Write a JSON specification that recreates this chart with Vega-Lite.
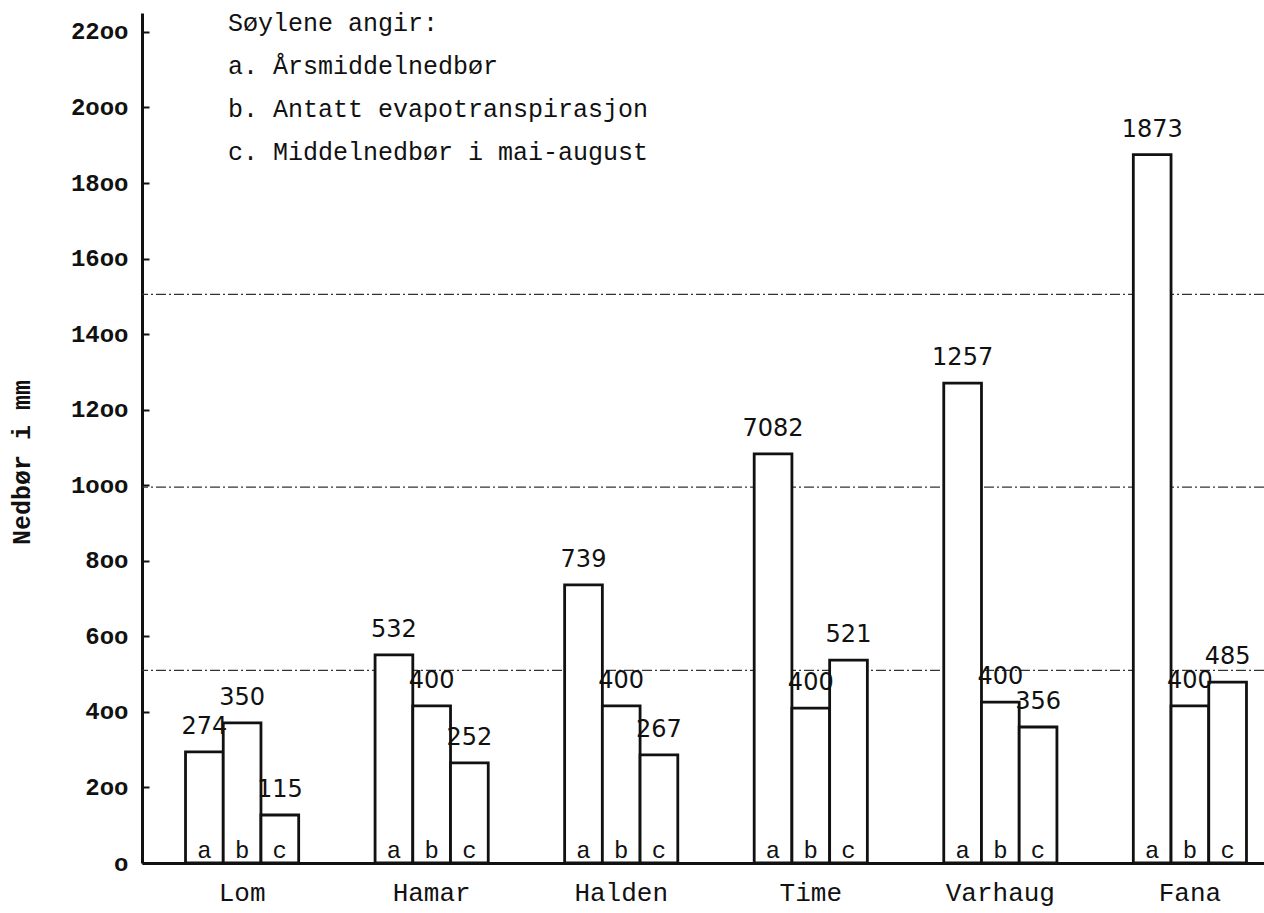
{
  "$schema": "https://vega.github.io/schema/vega-lite/v6.json",
  "width": 1122,
  "height": 850,
  "autosize": "none",
  "padding": {"left": 142, "top": 13, "right": 0, "bottom": 50},
  "background": "white",
  "config": {"view": {"stroke": null}, "font": "Liberation Mono"},
  "title": {
    "text": ["Søylene angir:", "a. Årsmiddelnedbør", "b. Antatt evapotranspirasjon", "c. Middelnedbør i mai-august"],
    "orient": "top",
    "anchor": "start",
    "frame": "group",
    "baseline": "middle",
    "offset": 0,
    "dx": 86,
    "dy": 164,
    "font": "Liberation Mono",
    "fontSize": 25,
    "fontWeight": "normal",
    "color": "#111",
    "lineHeight": 43
  },
  "datasets": {
    "bars": [
      {"sted": "Lom", "serie": "a", "verdi": 294, "etikett": "274"},
      {"sted": "Lom", "serie": "b", "verdi": 371, "etikett": "350"},
      {"sted": "Lom", "serie": "c", "verdi": 127, "etikett": "115"},
      {"sted": "Hamar", "serie": "a", "verdi": 551, "etikett": "532"},
      {"sted": "Hamar", "serie": "b", "verdi": 416, "etikett": "400"},
      {"sted": "Hamar", "serie": "c", "verdi": 265, "etikett": "252"},
      {"sted": "Halden", "serie": "a", "verdi": 736, "etikett": "739"},
      {"sted": "Halden", "serie": "b", "verdi": 416, "etikett": "400"},
      {"sted": "Halden", "serie": "c", "verdi": 286, "etikett": "267"},
      {"sted": "Time", "serie": "a", "verdi": 1083, "etikett": "7082"},
      {"sted": "Time", "serie": "b", "verdi": 410, "etikett": "400"},
      {"sted": "Time", "serie": "c", "verdi": 537, "etikett": "521"},
      {"sted": "Varhaug", "serie": "a", "verdi": 1270, "etikett": "1257"},
      {"sted": "Varhaug", "serie": "b", "verdi": 426, "etikett": "400"},
      {"sted": "Varhaug", "serie": "c", "verdi": 360, "etikett": "356"},
      {"sted": "Fana", "serie": "a", "verdi": 1875, "etikett": "1873"},
      {"sted": "Fana", "serie": "b", "verdi": 416, "etikett": "400"},
      {"sted": "Fana", "serie": "c", "verdi": 479, "etikett": "485"}
    ],
    "refs": [{"niva": 1505}, {"niva": 995}, {"niva": 510}]
  },
  "layer": [
    {
      "data": {"name": "refs"},
      "mark": {"type": "rule", "color": "#333", "strokeWidth": 1.2, "strokeDash": [10, 3, 2, 3]},
      "encoding": {
        "y": {"field": "niva", "type": "quantitative", "scale": {"domain": [0, 2250], "nice": false}}
      }
    },
    {
      "data": {"name": "bars"},
      "encoding": {
        "x": {
          "field": "sted",
          "type": "nominal",
          "sort": ["Lom", "Hamar", "Halden", "Time", "Varhaug", "Fana"],
          "scale": {"paddingInner": 0.403, "paddingOuter": 0.161, "align": 0.713},
          "axis": {
            "title": null,
            "labelAngle": 0,
            "labelFont": "Liberation Mono",
            "labelFontSize": 26,
            "labelColor": "#111",
            "labelPadding": 16,
            "ticks": false,
            "domainColor": "#111",
            "domainWidth": 3
          }
        },
        "xOffset": {"field": "serie", "type": "nominal", "scale": {"paddingInner": 0, "paddingOuter": 0}},
        "y": {
          "field": "verdi",
          "type": "quantitative",
          "scale": {"domain": [0, 2250], "nice": false},
          "axis": {
            "title": "Nedbør i mm",
            "titleFont": "Liberation Mono",
            "titleFontSize": 25,
            "titleFontWeight": "bold",
            "titleColor": "#111",
            "titlePadding": 36,
            "titleY": 449,
            "values": [0, 200, 400, 600, 800, 1000, 1200, 1400, 1600, 1800, 2000, 2200],
            "format": "d",
            "labelExpr": "replace(datum.label, regexp('0', 'g'), 'o')",
            "labelFont": "Liberation Mono",
            "labelFontSize": 24,
            "labelFontWeight": "bold",
            "labelColor": "#111",
            "tickSize": -7,
            "tickWidth": 2,
            "tickColor": "#111",
            "labelPadding": 21,
            "domainColor": "#111",
            "domainWidth": 3,
            "grid": false
          }
        }
      },
      "layer": [
        {"mark": {"type": "bar", "fill": "white", "stroke": "#111", "strokeWidth": 2.8}},
        {
          "mark": {"type": "text", "font": "DejaVu Sans", "fontSize": 24, "color": "#111", "baseline": "middle", "dy": -25},
          "encoding": {"text": {"field": "etikett"}}
        },
        {
          "mark": {"type": "text", "font": "Liberation Mono", "fontSize": 24, "color": "#111", "baseline": "alphabetic", "dy": -5},
          "encoding": {"text": {"field": "serie"}, "y": {"datum": 0, "type": "quantitative"}}
        }
      ]
    }
  ]
}
